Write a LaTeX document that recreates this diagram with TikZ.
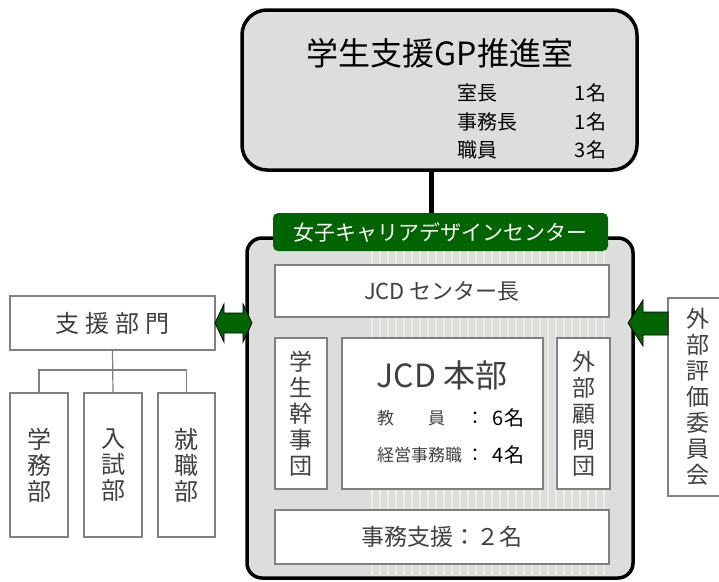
\documentclass[tikz,border=0pt]{standalone}
\usepackage{fontspec}
\newfontfamily\jp{Noto Sans CJK JP}
\usetikzlibrary{positioning}
\definecolor{boxgray}{RGB}{221,221,221}
\definecolor{jcdgreen}{RGB}{0,100,0}
\definecolor{txtgray}{RGB}{64,64,64}
\definecolor{stripe}{RGB}{238,238,222}
\newcommand{\fs}[2]{\jp\fontsize{#1}{#2}\selectfont}

\begin{document}
\begin{tikzpicture}[x=1pt, y=-1pt,
  every node/.style={inner sep=0pt, outer sep=0pt},
  card/.style={draw=gray, line width=1.2pt, fill=white, anchor=north west, text=txtgray, align=center},
  tree/.style={draw=gray, line width=1.2pt},
  garrow/.style={fill=jcdgreen, draw=black, line width=0.8pt, line join=miter}]

\useasboundingbox (0,0) rectangle (719,581);

% top office
\node(gp) [draw=black, line width=3.5pt, fill=boxgray, rounded corners=25pt, anchor=north west, minimum width=395pt, minimum height=160pt] at (242,10) {};
\node(gptitle) [font=\fs{32}{32}] at (440,53) {学生支援GP推進室};
\node(chief) [anchor=west, font=\fs{20}{20}] at (457,93) {室長};
\node(chiefn) [anchor=east, font=\fs{20}{20}] at (606,93) {1名};
\node(jimuchou) [anchor=west, font=\fs{20}{20}] at (457,122) {事務長};
\node(jimuchoun) [anchor=east, font=\fs{20}{20}] at (606,122) {1名};
\node(staff) [anchor=west, font=\fs{20}{20}] at (457,150) {職員};
\node(staffn) [anchor=east, font=\fs{20}{20}] at (606,150) {3名};

% JCD center
\node(jcd) [draw=black, line width=3.5pt, fill=boxgray, rounded corners=15pt, anchor=north west, minimum width=386pt, minimum height=340pt] at (247,238) {};
\foreach \x in {372,380,...,604}
  \draw[stripe, line width=1.5pt] (\x,242) -- (\x,575);
\node(jcdlabel) [fill=jcdgreen, rounded corners=5pt, anchor=north west, minimum width=335pt, minimum height=38pt, text=white, font=\fs{21}{21}] at (273,213) {女子キャリアデザインセンター};
\draw[line width=4.5pt] ([xshift=-8pt]gp.south) -- ([xshift=-8pt]gp.south |- jcdlabel.north);

\node(head) [card, minimum width=334pt, minimum height=52pt, font=\fs{22}{22}] at (275,265) {JCD センター長};
\node(kanji) [card, minimum width=52pt, minimum height=151pt, font=\fs{23}{26}] at (275,338) {学\\生\\幹\\事\\団};
\node(honbu) [card, minimum width=201pt, minimum height=151pt] at (342,338) {};
\node(honbutitle) [text=txtgray, font=\fs{32}{32}] at (442,375) {JCD 本部};
\node(kyoin) [anchor=west, text=txtgray, font=\fs{17}{17}] at (377,418) {教　　員};
\node(kyoinc) [font=\fs{18}{18}] at (475,418) {：};
\node(kyoinn) [anchor=east, font=\fs{20}{20}] at (524,418) {6名};
\node(keiei) [anchor=west, text=txtgray, font=\fs{17}{17}] at (377,455) {経営事務職};
\node(keieic) [font=\fs{18}{18}] at (475,455) {：};
\node(keiein) [anchor=east, font=\fs{20}{20}] at (524,455) {4名};
\node(komon) [card, minimum width=53pt, minimum height=151pt, font=\fs{23}{26}] at (557,338) {外\\部\\顧\\問\\団};
\node(jimu) [card, minimum width=334pt, minimum height=54pt, font=\fs{23}{23}] at (275,510) {事務支援：２名};

% support departments
\node(bumon) [card, minimum width=205pt, minimum height=54pt, font=\fs{24}{24}] at (10,296) {支\hspace{6pt}援\hspace{6pt}部\hspace{6pt}門};
\node(gakumu) [card, minimum width=58pt, minimum height=144pt, font=\fs{24}{26}] at (10,393) {学\\務\\部};
\node(nyushi) [card, minimum width=58pt, minimum height=144pt, font=\fs{24}{26}] at (84,393) {入\\試\\部};
\node(shushoku) [card, minimum width=57pt, minimum height=144pt, font=\fs{24}{26}] at (158,393) {就\\職\\部};
\path (bumon.south) ++(0,20) coordinate (fork);
\draw[tree] (bumon.south) -- (nyushi.north);
\draw[tree] (gakumu.north) |- (fork) -| (shushoku.north);

% external evaluation
\node(hyoka) [card, minimum width=60pt, minimum height=198pt, font=\fs{23}{26}] at (668,298) {外\\部\\評\\価\\委\\員\\会};

% arrows
\draw[garrow] (bumon.east) -- ++(9,-19) -- ++(0,9) -- ++(19,0) -- ++(0,-9) -- ++(9,19)
  -- ++(-9,19) -- ++(0,-9) -- ++(-19,0) -- ++(0,9) -- cycle;
\draw[garrow] (hyoka.north west) ++(0,14) -- ++(-25,0) -- ++(0,-12) -- ++(-15,23)
  -- ++(15,23) -- ++(0,-11) -- ++(25,0) -- cycle;
\end{tikzpicture}
\end{document}
